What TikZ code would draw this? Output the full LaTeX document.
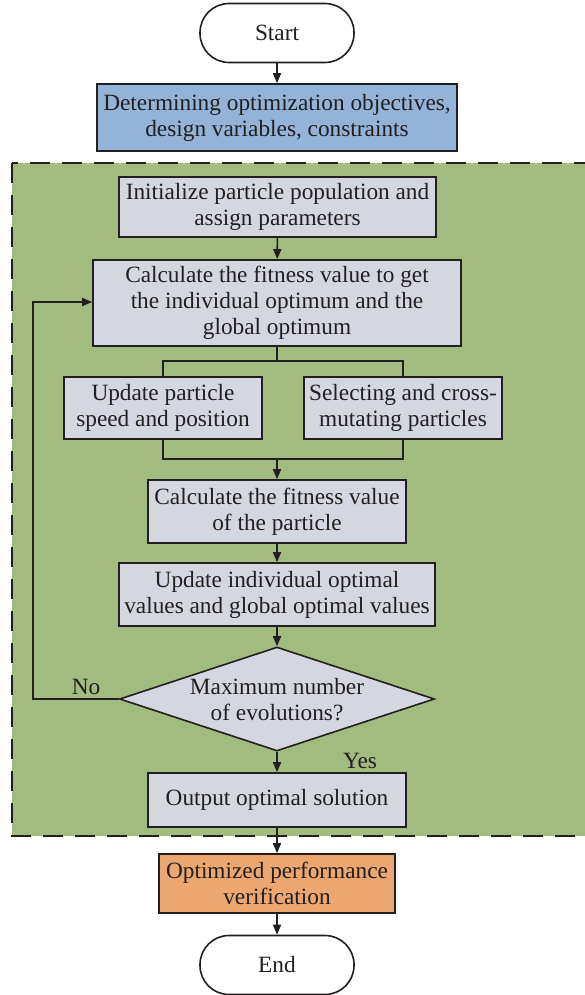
\documentclass[tikz,border=0pt]{standalone}
\usepackage{fontspec}
\setmainfont{Liberation Serif}
\usetikzlibrary{arrows.meta,shapes.geometric}
\definecolor{lineC}{HTML}{231F20}
\definecolor{blueF}{HTML}{93B3D8}
\definecolor{greenF}{HTML}{A2BB7E}
\definecolor{grayF}{HTML}{D4D7DF}
\definecolor{orangeF}{HTML}{EBA76F}
\tikzset{
  base/.style={draw=lineC, line width=1.6pt, align=center, inner sep=0pt, font=\fontsize{23.3}{26}\selectfont, text=lineC},
  procbox/.style={base, rectangle, fill=grayF},
  term/.style={base, rectangle, rounded corners=29pt, fill=white},
  conn/.style={draw=lineC, line width=1.6pt},
  arr/.style={conn, -{Triangle[length=10pt,width=8pt]}},
  lbl/.style={font=\fontsize{23.3}{26}\selectfont, text=lineC, inner sep=0pt}
}
\begin{document}
\begin{tikzpicture}[x=1pt,y=-1pt]
\useasboundingbox (0,0) rectangle (584,995);
% dashed green region
\draw[draw=lineC, fill=greenF, line width=2pt, dash pattern=on 20pt off 12pt] (12,163) rectangle (590,836);

\node[term, minimum width=154pt, minimum height=59pt] (start) at (277,33) {Start};
\node[base, fill=blueF, minimum width=360pt, minimum height=67pt] (obj) at (277,117.5) {Determining optimization objectives,\\design variables, constraints};
\node[procbox, minimum width=317pt, minimum height=60pt] (init) at (277.5,207) {Initialize particle population and\\assign parameters};
\node[procbox, minimum width=368pt, minimum height=86pt] (calc) at (277,303) {Calculate the fitness value to get\\the individual optimum and the\\global optimum};
\node[procbox, minimum width=198pt, minimum height=62pt] (upd) at (163,408) {Update particle\\speed and position};
\node[procbox, minimum width=198pt, minimum height=62pt] (sel) at (403,408) {Selecting and cross-\\mutating particles};
\node[procbox, minimum width=258pt, minimum height=63pt] (calcp) at (277,511.5) {Calculate the fitness value\\of the particle};
\node[procbox, minimum width=316pt, minimum height=63pt] (updopt) at (277,594.5) {Update individual optimal\\values and global optimal values};
\node[base, fill=grayF, shape=diamond, minimum width=315pt, minimum height=104pt, aspect=3] (max) at (277,699) {};
\node[lbl, align=center] at (277,700) {Maximum number\\of evolutions?};
\node[procbox, minimum width=258pt, minimum height=54pt] (out) at (277,800) {Output optimal solution};
\node[base, fill=orangeF, minimum width=236pt, minimum height=59pt] (ver) at (277,883.5) {Optimized performance\\verification};
\node[term, minimum width=154pt, minimum height=59pt] (end) at (277,965) {End};

\coordinate (bsplit) at (277,361);
\coordinate (bmerge) at (277,459);
\coordinate (loopa) at (33,699);
\coordinate (loopb) at (33,302);

\draw[arr] (start) -- (obj);
\draw[arr] (init) -- (calc);
\draw[conn] (calc.south) -- (bsplit);
\draw[conn] (upd.north) |- (bsplit) -| (sel.north);
\draw[conn] (upd.south) |- (bmerge) -| (sel.south);
\draw[arr] (bmerge) -- (calcp.north);
\draw[arr] (calcp) -- (updopt);
\draw[arr] (updopt) -- (max.north);
\draw[arr] (max.south) -- (out.north);
\draw[arr] (out) -- (ver);
\draw[arr] (ver) -- (end);
\draw[arr] (max.west) -- (loopa) -- (loopb) -- (calc.west |- loopb);

\node[lbl] at (86,687) {No};
\node[lbl] at (360,761) {Yes};
\end{tikzpicture}
\end{document}
